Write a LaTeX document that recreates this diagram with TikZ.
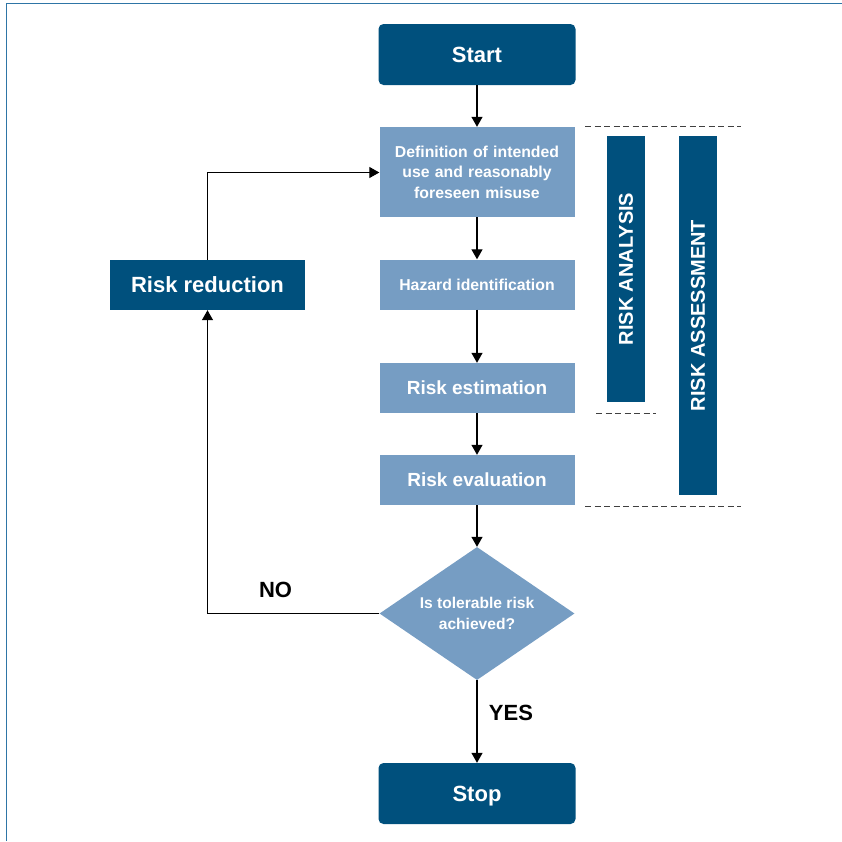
\documentclass[tikz,border=0pt]{standalone}
\usepackage{fontspec}
\setmainfont{Liberation Sans}
\usetikzlibrary{arrows.meta,positioning,shapes.geometric}

\definecolor{darkblue}{RGB}{0,80,125}
\definecolor{lightblue}{RGB}{118,157,195}
\definecolor{framecol}{RGB}{46,117,166}

\begin{document}
\begin{tikzpicture}[x=1pt, y=-1pt, >={Triangle[length=10pt,width=11pt]},
    every node/.style={inner sep=0pt, font=\bfseries},
    terminal/.style={fill=darkblue, text=white, rounded corners=5pt, minimum width=197pt, minimum height=61pt, text depth=0pt, font=\bfseries\fontsize{22}{26}\selectfont},
    stepbox/.style={fill=lightblue, text=white, minimum width=195pt, minimum height=50pt},
    bar/.style={fill=darkblue, text=white, minimum height=38pt, rotate=90, font=\bfseries\fontsize{20}{24}\selectfont},
    flow/.style={->, line width=1.2pt}]
    \useasboundingbox (0,0) rectangle (842,841);
    \draw[framecol, line width=1.6pt] (6.5,841) -- (6.5,3.5) -- (842,3.5);

    \node[terminal] (start) at (477,54.5) {Start};
    \node[stepbox, minimum height=90pt, text width=190pt, align=center,
          font=\bfseries\fontsize{15.8}{20.5}\selectfont] (def) at (477,172) {Definition of intended\\use and reasonably\\foreseen misuse};
    \node[stepbox, font=\bfseries\fontsize{15.8}{18}\selectfont] (haz) at (477,284.5) {Hazard identification};
    \node[stepbox, font=\bfseries\fontsize{19}{22}\selectfont] (est) at (477,388) {Risk estimation};
    \node[stepbox, font=\bfseries\fontsize{19}{22}\selectfont] (eval) at (477,480) {Risk evaluation};
    \node[diamond, fill=lightblue, text=white, minimum width=195pt, minimum height=133pt, aspect=1.47,
          align=center, font=\bfseries\fontsize{15.6}{21}\selectfont] (tol) at (477,613.5) {Is tolerable risk\\achieved?};
    \node[terminal] (stop) at (477,793.5) {Stop};
    \node[stepbox, fill=darkblue, font=\bfseries\fontsize{22}{26}\selectfont] (red) at (207.5,285) {Risk reduction};

    \node[bar, minimum width=266pt] (ana) at (626,269) {RISK ANALYSIS};
    \node[bar, minimum width=359pt] (ass) at (698,315.5) {RISK ASSESSMENT};

    \node[font=\bfseries\fontsize{22}{26}\selectfont] (no) at (275.5,590) {NO};
    \node[font=\bfseries\fontsize{22}{26}\selectfont] (yes) at (511,713) {YES};

    \coordinate (dtop) at (585,126);
    \coordinate (dmid) at (596,413);
    \coordinate (dbot) at (585,506);
    \draw[dashed, dash pattern=on 6pt off 3.5pt, line width=0.9pt, black!75] (dtop) -- ++(156,0);
    \draw[dashed, dash pattern=on 6pt off 3.5pt, line width=0.9pt, black!75] (dmid) -- ++(60,0);
    \draw[dashed, dash pattern=on 6pt off 3.5pt, line width=0.9pt, black!75] (dbot) -- ++(156,0);

    \draw[flow] (start) -- (def);
    \draw[flow] (def) -- (haz);
    \draw[flow] (haz) -- (est);
    \draw[flow] (est) -- (eval);
    \draw[flow] (eval) -- (tol.north);
    \draw[flow] (tol.south) -- (stop);
    \draw[flow] (tol.west) -| (red.south);
    \draw[flow] (red.north) |- (def.west |- 0,172.5);
\end{tikzpicture}
\end{document}
